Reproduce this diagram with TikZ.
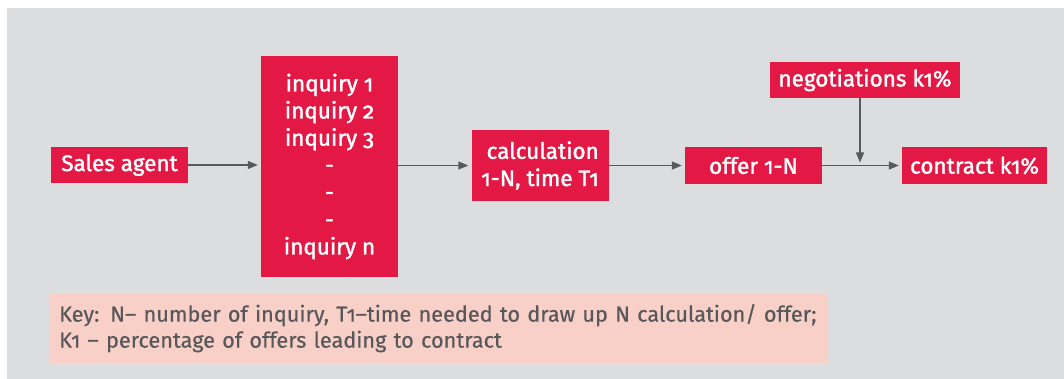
\documentclass[tikz,border=0pt]{standalone}
\usepackage{fontspec}
\setmainfont{Fira Sans}[Numbers=OldStyle]
\newfontfamily\boxfont{Fira Sans}[Numbers=OldStyle,FakeBold=1.6]
\newfontfamily\keyfont{Fira Sans}[Numbers=OldStyle,FakeBold=0.5]
\usetikzlibrary{arrows.meta}
\definecolor{bggray}{HTML}{DCDDDF}
\definecolor{boxred}{HTML}{E31844}
\definecolor{keypink}{HTML}{F9D0C8}
\definecolor{linegray}{HTML}{58595B}
\definecolor{keytext}{HTML}{58585A}
\tikzset{
  redbox/.style={fill=boxred, text=white, inner sep=0pt, font=\boxfont\fontsize{22.5}{27.2}\selectfont},
  flow/.style={draw=linegray, line width=1.5pt, -{Triangle[length=10pt,width=8pt]}, shorten >=3pt},
}
\begin{document}
\begin{tikzpicture}[x=1pt,y=-1pt]
  \useasboundingbox (0,0) rectangle (1064,379);
  % background panel
  \fill[bggray] (7,8) rectangle (1064,379);

  % process boxes
  \node[redbox, minimum width=137pt, minimum height=36pt] (sales) at (119.5,165) {Sales agent};
  \node[redbox, minimum width=137pt, minimum height=221pt, align=center] (inq) at (329.5,166.5)
    {inquiry 1\\inquiry 2\\inquiry 3\\-\\-\\-\\inquiry n};
  \node[redbox, minimum width=137pt, minimum height=71pt, align=right] (calc) at (540,165.5)
    {calculation\\1-N, time T1};
  \node[redbox, minimum width=137pt, minimum height=37pt] (offer) at (753.5,165.5) {offer 1-N};
  \node[redbox, minimum width=190pt, minimum height=36pt] (nego) at (865,80) {negotiations k1\%};
  \node[redbox, minimum width=145pt, minimum height=37pt] (contract) at (974.5,165.5) {contract k1\%};
  \coordinate (join) at (860,165.5);

  % connectors
  \draw[flow] (sales.east) -- (sales.east -| inq.west);
  \draw[flow] (inq.east |- calc.west) -- (calc.west);
  \draw[flow] (calc.east |- offer.west) -- (offer.west);
  \draw[flow] (offer.east) -- (contract.west);
  \draw[flow] (nego.south -| join) -- (join);

  % legend
  \node[fill=keypink, text=keytext, anchor=north west, minimum width=778pt, minimum height=70pt,
        inner sep=0pt, text width=770pt, align=left, font=\keyfont\fontsize{21.7}{26}\selectfont] (key) at (50,293)
    {\hspace*{5pt}Key: N– number of inquiry, T1–time needed to draw up N calculation/ offer;\\
     \hspace*{5pt}K1 – percentage of offers leading to contract};
\end{tikzpicture}
\end{document}
